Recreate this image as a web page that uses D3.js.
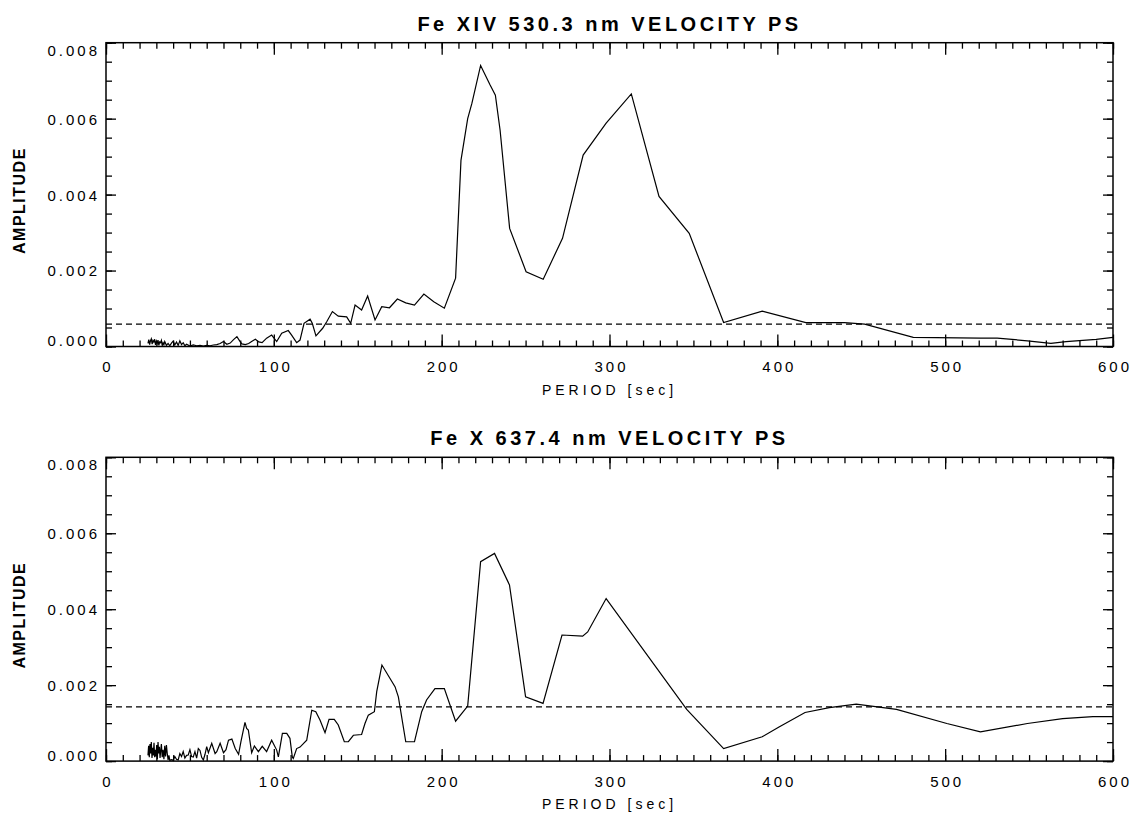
<!DOCTYPE html>
<html>
<head>
<meta charset="utf-8">
<script src="https://cdn.jsdelivr.net/npm/d3@7"></script>
<style>
    body { margin: 0; background: #fff; }
    svg text { font-family: "Liberation Sans", Arial, sans-serif; fill: #000; }
</style>
</head>
<body>
<div id="chart"></div>
<script>
// titles and tick labels
var titles = ['Fe XIV 530.3 nm VELOCITY PS', 'Fe X 637.4 nm VELOCITY PS'];
var xLabel = 'PERIOD [sec]';
var yLabel = 'AMPLITUDE';
var xTicks = [0, 100, 200, 300, 400, 500, 600];
var yTicks = [0, 0.002, 0.004, 0.006, 0.008];

// Fe XIV 530.3 nm power spectrum
var periodsXIV = [25, 25.5, 26, 26.5, 27, 27.5, 28, 28.5, 29, 29.5, 30, 30.5, 31, 31.5, 32, 32.5, 33, 33.5, 34, 34.5,
    35, 36, 37, 38, 39, 40, 41, 42, 43, 44, 45, 46, 47, 48, 50, 52, 54, 56, 58, 60, 62, 64, 66, 68, 70, 72, 74, 76, 78,
    80, 81, 83, 85, 87, 89, 91, 93, 95.7, 98.7, 101.7, 104.7, 108.6, 110.6, 113.6, 115.6, 118, 121.6, 122.9, 125.1,
    129.1, 131.5, 134.9, 138.4, 143.4, 145.8, 148.4, 152.3, 155.9, 160.3, 164.3, 168.9, 173.6, 178.6, 183.8, 189.4,
    195.3, 201.6, 208.3, 211.5, 215.5, 218, 223.2, 228.8, 232, 234.8, 240.5, 250.3, 260.5, 272, 284.3, 298, 313,
    329.5, 347.5, 368, 391, 417, 440, 452, 481, 521, 531, 549, 563, 572, 590, 600];
var ampXIV = [0.00008, 0.00018, 0.00005, 0.00015, 0.0002, 0.00006, 0.00016, 0.00012, 0.00019, 0.00004, 0.00014,
    0.00008, 0.00017, 0.00003, 0.00012, 0.0001, 0.00016, 0.00002, 0.0001, 0.00005, 0.00013, 0.00003, 0.00008,
    0.00002, 0.00009, 0.00014, 0.00004, 0.00012, 0.00003, 0.00015, 0.00005, 0.0001, 0.00002, 0.00006, 0.00001,
    0.00004, 0.00002, 0.00003, 0.00001, 0.00003, 0.00002, 0.00004, 0.00005, 0.00008, 0.00013, 0.00006, 0.00009,
    0.00018, 0.00026, 0.00012, 0.00007, 0.00005, 0.00008, 0.00014, 0.00019, 0.00012, 0.0001, 0.00022, 0.0003,
    0.00013, 0.00035, 0.00042, 0.0003, 0.0001, 0.00017, 0.00061, 0.00072, 0.00061, 0.00028, 0.00048, 0.00065,
    0.00092, 0.0008, 0.00078, 0.00061, 0.00109, 0.00096, 0.00133, 0.0007, 0.00105, 0.00102, 0.00125, 0.00115,
    0.00109, 0.00138, 0.00118, 0.00101, 0.0018, 0.0049, 0.006, 0.0064, 0.0074, 0.00689, 0.00662, 0.0057, 0.00311,
    0.00197, 0.00177, 0.00285, 0.00504, 0.00588, 0.00665, 0.00395, 0.00298, 0.00063, 0.00093, 0.00063, 0.00063,
    0.00059, 0.00024, 0.00022, 0.00022, 0.00015, 0.00008, 0.00013, 0.00019, 0.00024];

// Fe X 637.4 nm power spectrum
var periodsX = [25, 25.4, 25.8, 26.2, 26.6, 27, 27.4, 27.8, 28.2, 28.6, 29, 29.4, 29.8, 30.2, 30.6, 31, 31.4, 31.8,
    32.2, 32.6, 33, 33.5, 34, 34.5, 35, 35.5, 36, 36.5, 37, 37.5, 38, 39, 40, 41, 42, 43, 44, 45, 46, 47, 48, 49, 50,
    51, 52, 53, 54, 55, 56, 57, 58, 59, 60, 61, 63, 65, 66, 68, 70, 71.5, 73, 75, 77, 79, 80.4, 82.8, 83.8, 84.8,
    86.8, 88.4, 90.8, 93.1, 95.7, 98.7, 101.7, 102.7, 105.1, 107.7, 109.6, 111, 111.6, 113.6, 115.6, 119.6, 122.6,
    125, 127.5, 130.5, 132.9, 136, 138.4, 142, 144.4, 147.4, 152.3, 154.3, 156.3, 159.9, 161.3, 164.4, 172.2, 174.2,
    178.6, 183.8, 188.1, 191, 196, 201.6, 208.3, 215.5, 223.2, 231.5, 240.4, 250, 260.4, 271.7, 284, 287, 298, 346,
    368, 391, 401, 416.5, 431, 447, 471, 501, 521, 549, 570, 588, 600];
var ampX = [0.00015, 0.0004, 0.0001, 0.00045, 0.0002, 0.0005, 0.00008, 0.00035, 0.00015, 0.00048, 0.0001, 0.0003,
    0.00012, 0.00042, 0.00005, 0.0005, 0.0002, 0.00038, 0.00008, 0.00028, 0.00045, 0.0001, 0.0003, 0.00005, 0.0004,
    0.00012, 0.00042, 0.0002, 0.00003, 0.00015, 0.00002, 0.00004, 0.00002, 0.00012, 0.00005, 0.00003, 0.0002,
    0.00012, 0.00025, 0.00008, 0.00015, 0.00016, 0.0003, 0.00012, 0.00011, 0.00025, 0.00008, 0.00033, 0.00028,
    0.0001, 0.00003, 0.00018, 0.00038, 0.00022, 0.00047, 0.0002, 0.00025, 0.00047, 0.00022, 0.0003, 0.00055,
    0.00058, 0.00033, 0.00018, 0.00051, 0.00102, 0.00086, 0.00082, 0.00022, 0.0004, 0.00025, 0.00039, 0.00025,
    0.00055, 0.00029, 0.00011, 0.00073, 0.00073, 0.0006, 0.00011, 0.00007, 0.00033, 0.00037, 0.00055, 0.00134,
    0.0013, 0.00108, 0.00075, 0.0011, 0.0011, 0.00095, 0.00051, 0.00051, 0.00068, 0.0007, 0.00099, 0.00121, 0.0013,
    0.00183, 0.00253, 0.00196, 0.00169, 0.00051, 0.00051, 0.0013, 0.00161, 0.00191, 0.00191, 0.00105, 0.00145,
    0.00525, 0.00547, 0.00464, 0.00169, 0.00152, 0.00332, 0.00329, 0.0034, 0.00428, 0.00136, 0.00033, 0.00064,
    0.0009, 0.00128, 0.00141, 0.0015, 0.00136, 0.00099, 0.00077, 0.00099, 0.00112, 0.00117, 0.00117];

// significance levels (dashed lines)
var noiseLevels = [0.00059, 0.00143];

var w = 1132, h = 817;
var left = 106, right = 1113, plotH = 303.8;

var svg = d3.select('#chart')
    .append('svg')
        .attr('width', w)
        .attr('height', h);

function drawPanel(top, title, periods, amps, noise) {
    var x = d3.scaleLinear().domain([0, 600]).range([left, right]);
    var y = d3.scaleLinear().domain([0, 0.008]).range([top + plotH, top]);
    var g = svg.append('g');

    // minor ticks on all four sides
    var axes = [
        [d3.axisBottom(x).ticks(60).tickSize(-6), top + plotH, 0],
        [d3.axisTop(x).ticks(60).tickSize(-6), top, 0],
        [d3.axisLeft(y).ticks(16).tickSize(-6), 0, left],
        [d3.axisRight(y).ticks(16).tickSize(-6), 0, right],
        [d3.axisTop(x).tickValues(xTicks).tickSize(-12), top, 0],
        [d3.axisRight(y).tickValues(yTicks).tickSize(-10), 0, right]
    ];
    axes.forEach(function (a) {
        var ag = g.append('g')
            .attr('transform', 'translate(' + a[2] + ',' + a[1] + ')')
            .call(a[0].tickFormat(''));
        ag.select('.domain').remove();
        ag.selectAll('line').attr('stroke', '#000').attr('stroke-width', 1.3);
    });

    // labelled major ticks
    var xa = g.append('g')
        .attr('transform', 'translate(0,' + (top + plotH) + ')')
        .call(d3.axisBottom(x).tickValues(xTicks).tickSize(-12).tickPadding(15).tickFormat(d3.format('d')));
    var ya = g.append('g')
        .attr('transform', 'translate(' + left + ',0)')
        .call(d3.axisLeft(y).tickValues(yTicks).tickSize(-10).tickPadding(6).tickFormat(d3.format('.3f')));
    [xa, ya].forEach(function (ag) {
        ag.select('.domain').remove();
        ag.selectAll('line').attr('stroke', '#000').attr('stroke-width', 1.3);
        ag.selectAll('text')
            .attr('font-size', 15)
            .attr('font-family', '"Liberation Sans", Arial, sans-serif')
            .attr('letter-spacing', 3)
            .attr('fill', '#000');
    });
    xa.selectAll('text').attr('dx', 1.5);
    ya.selectAll('text')
        .attr('dy', function (d) { return d === 0.008 ? 12.4 : d === 0 ? -1 : 5.4; });

    // frame
    g.append('rect')
        .attr('x', left)
        .attr('y', top)
        .attr('width', right - left)
        .attr('height', plotH)
        .attr('fill', 'none')
        .attr('stroke', '#000')
        .attr('stroke-width', 1.5);

    // noise level
    g.append('line')
        .attr('x1', x(0))
        .attr('x2', x(600))
        .attr('y1', y(noise))
        .attr('y2', y(noise))
        .attr('stroke', '#000')
        .attr('stroke-width', 1.2)
        .attr('stroke-dasharray', '6,4');

    // spectrum
    var line = d3.line()
        .x(function (d) { return x(d[0]); })
        .y(function (d) { return y(d[1]); });
    g.append('path')
        .datum(d3.zip(periods, amps))
        .attr('d', line)
        .attr('fill', 'none')
        .attr('stroke', '#000')
        .attr('stroke-width', 1.2);

    // titles
    g.append('text')
        .text(title)
        .attr('x', (left + right) / 2)
        .attr('y', top - 12)
        .attr('text-anchor', 'middle')
        .attr('font-size', 20)
        .attr('font-weight', 'bold')
        .attr('letter-spacing', 3.5);
    g.append('text')
        .text(xLabel)
        .attr('x', (left + right) / 2)
        .attr('y', top + plotH + 48)
        .attr('text-anchor', 'middle')
        .attr('font-size', 14)
        .attr('letter-spacing', 4);
    g.append('text')
        .text(yLabel)
        .attr('transform', 'translate(25,' + (top + plotH / 2 + 6) + ') rotate(-90)')
        .attr('text-anchor', 'middle')
        .attr('font-size', 16)
        .attr('font-weight', 'bold')
        .attr('letter-spacing', 1.5);
}

drawPanel(42.7, titles[0], periodsXIV, ampXIV, noiseLevels[0]);
drawPanel(457.3, titles[1], periodsX, ampX, noiseLevels[1]);
</script>
</body>
</html>
